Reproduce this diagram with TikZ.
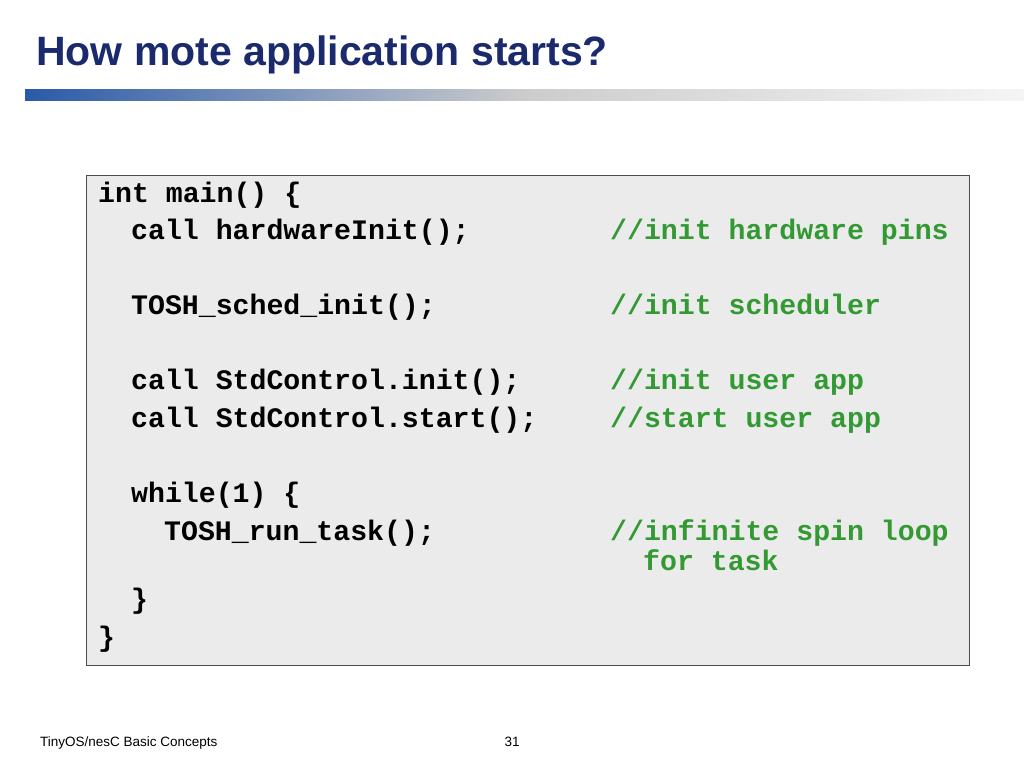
\documentclass[tikz,border=0pt]{standalone}
\usepackage{fontspec}
\setmainfont{Liberation Sans}
\newfontfamily\codefont{Liberation Mono}
\begin{document}
\begin{tikzpicture}[x=1pt,y=-1pt,
  code/.style={anchor=base west,inner sep=0pt,font=\codefont\bfseries\fontsize{28.2}{30}\selectfont},
  cmt/.style={code,text=cmtgreen}]
\definecolor{titleblue}{HTML}{1A2A6C}
\definecolor{barblue}{HTML}{2A5AA8}
\definecolor{cmtgreen}{HTML}{339933}
\useasboundingbox (0,0) rectangle (1024,768);
\fill[white] (0,0) rectangle (1024,768);
\node[anchor=base west,inner sep=0pt,text=titleblue,font=\bfseries\fontsize{41}{44}\selectfont] (title) at (36,66) {How mote application starts?};
\shade[left color=barblue,right color=gray!8,middle color=gray!40] (25,89) rectangle (1024,100);
\node[draw=black!70,fill=black!8,line width=0.8pt,minimum width=883,minimum height=490,anchor=north west,inner sep=0pt] (box) at (86,175) {};
\node[code] (l1) at (98,202) {int main() \{};
\node[code] (l2) at (131,239) {call hardwareInit();};
\node[cmt] (c2) at (610,239) {//init hardware pins};
\node[code] (l3) at (131,314) {TOSH\_sched\_init();};
\node[cmt] (c3) at (610,314) {//init scheduler};
\node[code] (l4) at (131,389) {call StdControl.init();};
\node[cmt] (c4) at (610,389) {//init user app};
\node[code] (l5) at (131,427) {call StdControl.start();};
\node[cmt] (c5) at (610,427) {//start user app};
\node[code] (l6) at (131,502) {while(1) \{};
\node[code] (l7) at (164,540) {TOSH\_run\_task();};
\node[cmt] (c7) at (610,540) {//infinite spin loop};
\node[cmt] (c8) at (643,570) {for task};
\node[code] (l8) at (131,608) {\}};
\node[code] (l9) at (98,646) {\}};
\node[anchor=base west,inner sep=0pt,font=\fontsize{13.5}{15}\selectfont] (foot) at (40,746) {TinyOS/nesC Basic Concepts};
\node[anchor=base,inner sep=0pt,font=\fontsize{13.5}{15}\selectfont] (page) at (512,746) {31};
\end{tikzpicture}
\end{document}
